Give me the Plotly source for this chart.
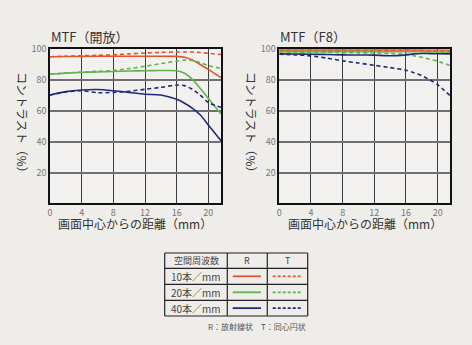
import plotly.graph_objects as go

# Image height (mm from centre) at which MTF is sampled
distance = [0, 2, 4, 6, 8, 10, 12, 14, 16, 17, 18, 19, 20, 21.6]

# MTF wide open (%): R = sagittal, T = meridional
open_10r = [95.2, 95.3, 95.4, 95.5, 95.5, 95.5, 95.5, 95.5, 95.4, 94.8, 93.0, 90.0, 87.0, 81.6]
open_10t = [95.2, 95.5, 95.8, 96.1, 96.4, 97.0, 97.6, 98.0, 98.2, 98.3, 98.2, 97.9, 97.4, 96.6]
open_20r = [83.8, 84.5, 85.0, 85.3, 85.6, 85.9, 86.1, 86.2, 86.1, 84.5, 80.5, 74.5, 68.0, 58.0]
open_20t = [83.8, 84.6, 85.2, 85.7, 86.2, 87.5, 89.0, 90.7, 92.3, 93.0, 92.8, 91.2, 89.5, 87.5]
open_40r = [70.3, 72.5, 73.6, 73.9, 73.1, 72.0, 70.8, 70.3, 67.5, 65.0, 61.7, 57.3, 50.8, 40.6]
open_40t = [70.3, 72.3, 73.1, 71.8, 72.0, 72.8, 74.0, 75.3, 76.8, 76.4, 74.0, 70.3, 65.4, 62.3]

# MTF at F8 (%)
f8_10r = [99.6, 99.6, 99.6, 99.6, 99.6, 99.6, 99.6, 99.6, 99.6, 99.6, 99.6, 99.5, 99.5, 99.4]
f8_10t = [99.2, 99.2, 99.2, 99.2, 99.2, 99.2, 99.2, 99.2, 99.2, 99.1, 99.0, 98.9, 98.7, 98.4]
f8_20r = [98.5, 98.5, 98.5, 98.5, 98.5, 98.5, 98.5, 98.4, 98.4, 98.4, 98.4, 98.3, 98.2, 98.0]
f8_20t = [98.3, 98.2, 98.1, 98.0, 97.8, 97.7, 97.6, 97.3, 96.7, 95.8, 94.8, 93.5, 92.2, 89.4]
f8_40r = [97.0, 96.9, 96.8, 96.6, 96.4, 96.3, 96.2, 95.8, 96.4, 97.0, 97.3, 97.2, 97.1, 97.0]
f8_40t = [96.8, 96.4, 95.7, 94.3, 92.5, 91.1, 89.6, 88.1, 86.4, 84.8, 82.8, 80.2, 77.0, 69.8]

x_ticks = [0, 4, 8, 12, 16, 20]
y_ticks = [20, 40, 60, 80, 100]
panel_titles = ["MTF（開放）", "MTF（F8）"]
x_title = "画面中心からの距離（mm）"
y_title = "コントラスト（%）"
freq_labels = ["10本／mm", "20本／mm", "40本／mm"]
table_header = ["空間周波数", "R", "T"]
footnote = "R：放射線状　T：同心円状"

RED, GREEN, BLUE = "#e2542c", "#5fb44a", "#1f2b78"
colors = [RED, GREEN, BLUE]
JP = "Noto Sans CJK JP"
BG = "#efedea"

fig = go.Figure()

panels = [
    ("x", "y", [open_10r, open_10t, open_20r, open_20t, open_40r, open_40t]),
    ("x2", "y2", [f8_10r, f8_10t, f8_20r, f8_20t, f8_40r, f8_40t]),
]
for xa, ya, series in panels:
    for i, vals in enumerate(series):
        col = colors[i // 2]
        dashed = i % 2 == 1
        fig.add_trace(go.Scatter(
            x=distance, y=vals, xaxis=xa, yaxis=ya, mode="lines",
            line=dict(color=col, width=1.6, shape="spline", smoothing=0.6,
                      dash="4px,3px" if dashed else "solid"),
            showlegend=False, hoverinfo="skip",
        ))

W, H = 472, 345
def px(v):
    return v / W
def py(v):
    return 1 - v / H

ydom = [py(203.3), py(49.3)]
xdoms = [[px(50), px(221)], [px(279.3), px(450.3)]]

axis_common = dict(range=[0, 21.6], tickvals=x_ticks, showgrid=True,
                   gridcolor="#3c3c3c", gridwidth=1, showline=True, mirror=True,
                   linecolor="#111", linewidth=1.5, zeroline=False, ticks="",
                   tickfont=dict(family=JP, size=9, color="#777"))
yaxis_common = dict(range=[0, 100], tickvals=y_ticks, showgrid=True,
                    gridcolor="#707070", gridwidth=2, showline=True, mirror=True,
                    linecolor="#111", linewidth=1.5, zeroline=False, ticks="",
                    tickfont=dict(family=JP, size=9, color="#777"))

fig.update_layout(
    width=W, height=H, margin=dict(l=0, r=0, t=0, b=0, autoexpand=False),
    paper_bgcolor=BG, plot_bgcolor="#f3f1ef",
    xaxis=dict(domain=xdoms[0], anchor="y", **axis_common),
    yaxis=dict(domain=ydom, anchor="x", **yaxis_common),
    xaxis2=dict(domain=xdoms[1], anchor="y2", **axis_common),
    yaxis2=dict(domain=ydom, anchor="x2", **yaxis_common),
)

def label(text, x, y, size, color, xanchor="center", angle=0):
    return dict(text=text, x=x, y=y, xref="paper", yref="paper",
                xanchor=xanchor, yanchor="middle", showarrow=False, textangle=angle,
                font=dict(family=JP, size=size, color=color))

ann = []
for k, (x0, x1) in enumerate(xdoms):
    ann.append(label(panel_titles[k], x0 - px(1), py(36.5), 13, "#333", xanchor="left"))
    ann.append(label(x_title, (x0 + x1) / 2, py(224), 12, "#333"))
    ann.append(label(y_title, x0 - px(27), py(125), 12, "#333", angle=90))

# Legend table
tx0, tx1 = 164.7, 307.7
cols = [tx0, 227.3, 267.3, tx1]
rows = [253, 268.3, 284.3, 300.3, 316]
shapes = []
for c in cols:
    shapes.append(dict(type="line", xref="paper", yref="paper", x0=px(c), x1=px(c),
                       y0=py(rows[0]), y1=py(rows[-1]), line=dict(color="#222", width=1.2)))
for r in rows:
    shapes.append(dict(type="line", xref="paper", yref="paper", x0=px(tx0), x1=px(tx1),
                       y0=py(r), y1=py(r), line=dict(color="#222", width=1.2)))

for j, h in enumerate(table_header):
    ann.append(label(h, px((cols[j] + cols[j + 1]) / 2), py((rows[0] + rows[1]) / 2), 9, "#444"))
for i, lab in enumerate(freq_labels):
    yc = py((rows[i + 1] + rows[i + 2]) / 2)
    ann.append(label(lab, px((cols[0] + cols[1]) / 2), yc, 10, "#444"))
    shapes.append(dict(type="line", xref="paper", yref="paper", x0=px(232.7), x1=px(261),
                       y0=yc, y1=yc, line=dict(color=colors[i], width=1.8)))
    shapes.append(dict(type="line", xref="paper", yref="paper", x0=px(272.7), x1=px(301.7),
                       y0=yc, y1=yc, line=dict(color=colors[i], width=1.8, dash="3px,2px")))

ann.append(label(footnote, px(308), py(326), 8, "#555", xanchor="right"))

fig.update_layout(annotations=ann, shapes=shapes)
fig.write_html("out.html")
